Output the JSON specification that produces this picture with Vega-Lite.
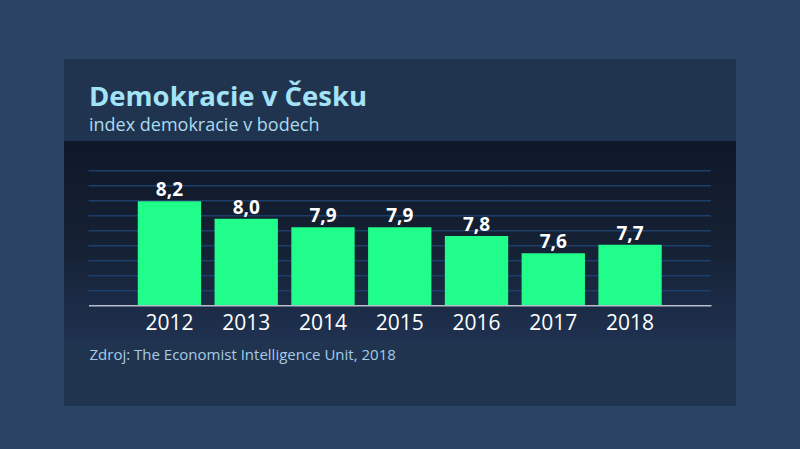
{
  "$schema": "https://vega.github.io/schema/vega-lite/v6.json",
  "width": 672,
  "height": 347,
  "autosize": {"type": "none"},
  "padding": {"left": 64, "top": 59, "right": 64, "bottom": 43},
  "background": "#2b4465",
  "config": {
    "view": {"stroke": null, "fill": "#21344f"},
    "font": "Open Sans",
    "locale": {
      "number": {"decimal": ",", "thousands": " ", "grouping": [3], "currency": ["", " Kč"]}
    }
  },
  "title": {
    "text": "Demokracie v Česku",
    "subtitle": "index demokracie v bodech",
    "anchor": "start",
    "frame": "group",
    "orient": "top",
    "offset": -76,
    "dx": 25,
    "font": "Open Sans",
    "fontSize": 27.5,
    "fontWeight": "bold",
    "color": "#a3e3f7",
    "subtitleFont": "Open Sans",
    "subtitleFontSize": 18,
    "subtitleColor": "#a9dbf0",
    "subtitlePadding": 6
  },
  "datasets": {
    "index": [
      {"year": "2012", "value": 8.2},
      {"year": "2013", "value": 8.0},
      {"year": "2014", "value": 7.9},
      {"year": "2015", "value": 7.9},
      {"year": "2016", "value": 7.8},
      {"year": "2017", "value": 7.6},
      {"year": "2018", "value": 7.7}
    ],
    "grid": [
      {"level": 7.168},
      {"level": 7.341},
      {"level": 7.514},
      {"level": 7.687},
      {"level": 7.860},
      {"level": 8.033},
      {"level": 8.206},
      {"level": 8.379},
      {"level": 8.552}
    ]
  },
  "layer": [
    {
      "data": {"values": [{"panel": "band"}]},
      "mark": {
        "type": "rect",
        "color": {
          "gradient": "linear",
          "x1": 0, "y1": 0, "x2": 0, "y2": 1,
          "stops": [
            {"offset": 0, "color": "#0f1828"},
            {"offset": 0.55, "color": "#152134"},
            {"offset": 1, "color": "#1f3150"}
          ]
        }
      },
      "encoding": {
        "y": {"datum": 8.895, "type": "quantitative", "scale": {"domain": [5.839, 9.841], "nice": false, "zero": false}, "axis": null},
        "y2": {"datum": 6.623}
      }
    },
    {
      "data": {"name": "grid"},
      "mark": {"type": "rule", "color": "#1c3e68", "strokeWidth": 1.5},
      "encoding": {
        "y": {"field": "level", "type": "quantitative"},
        "x": {"datum": "2012", "type": "ordinal", "bandPosition": -0.778},
        "x2": {"datum": "2018", "bandPosition": 1.778}
      }
    },
    {
      "data": {"name": "index"},
      "mark": {"type": "bar", "color": "#21fd8b"},
      "encoding": {
        "x": {
          "field": "year",
          "type": "ordinal",
          "scale": {"range": [24.5, 647], "paddingInner": 0.175, "paddingOuter": 0.642},
          "axis": {
            "orient": "bottom",
            "offset": -100.7,
            "zindex": 1,
            "domainColor": "#b5bfcb",
            "domainWidth": 1.5,
            "ticks": false,
            "grid": false,
            "labelColor": "#ffffff",
            "labelFont": "Open Sans",
            "labelFontSize": 21,
            "labelPadding": 7,
            "labelAngle": 0,
            "labelAlign": "center",
            "labelBaseline": "top",
            "title": "Zdroj: The Economist Intelligence Unit, 2018",
            "titleColor": "#a6cbe6",
            "titleFont": "Open Sans",
            "titleFontSize": 15,
            "titleFontWeight": "normal",
            "titleX": 25,
            "titleY": 54,
            "titleAlign": "left",
            "titleAnchor": "start",
            "titleBaseline": "alphabetic"
          }
        },
        "y": {"field": "value", "type": "quantitative"},
        "y2": {"datum": 7}
      }
    },
    {
      "data": {"name": "index"},
      "mark": {"type": "text", "color": "#ffffff", "font": "Open Sans", "fontSize": 19, "fontWeight": "bold", "baseline": "alphabetic", "dy": -5},
      "encoding": {
        "x": {"field": "year", "type": "ordinal", "title": "Zdroj: The Economist Intelligence Unit, 2018"},
        "y": {"field": "value", "type": "quantitative"},
        "text": {"field": "value", "type": "quantitative", "format": ".1f"}
      }
    }
  ]
}
